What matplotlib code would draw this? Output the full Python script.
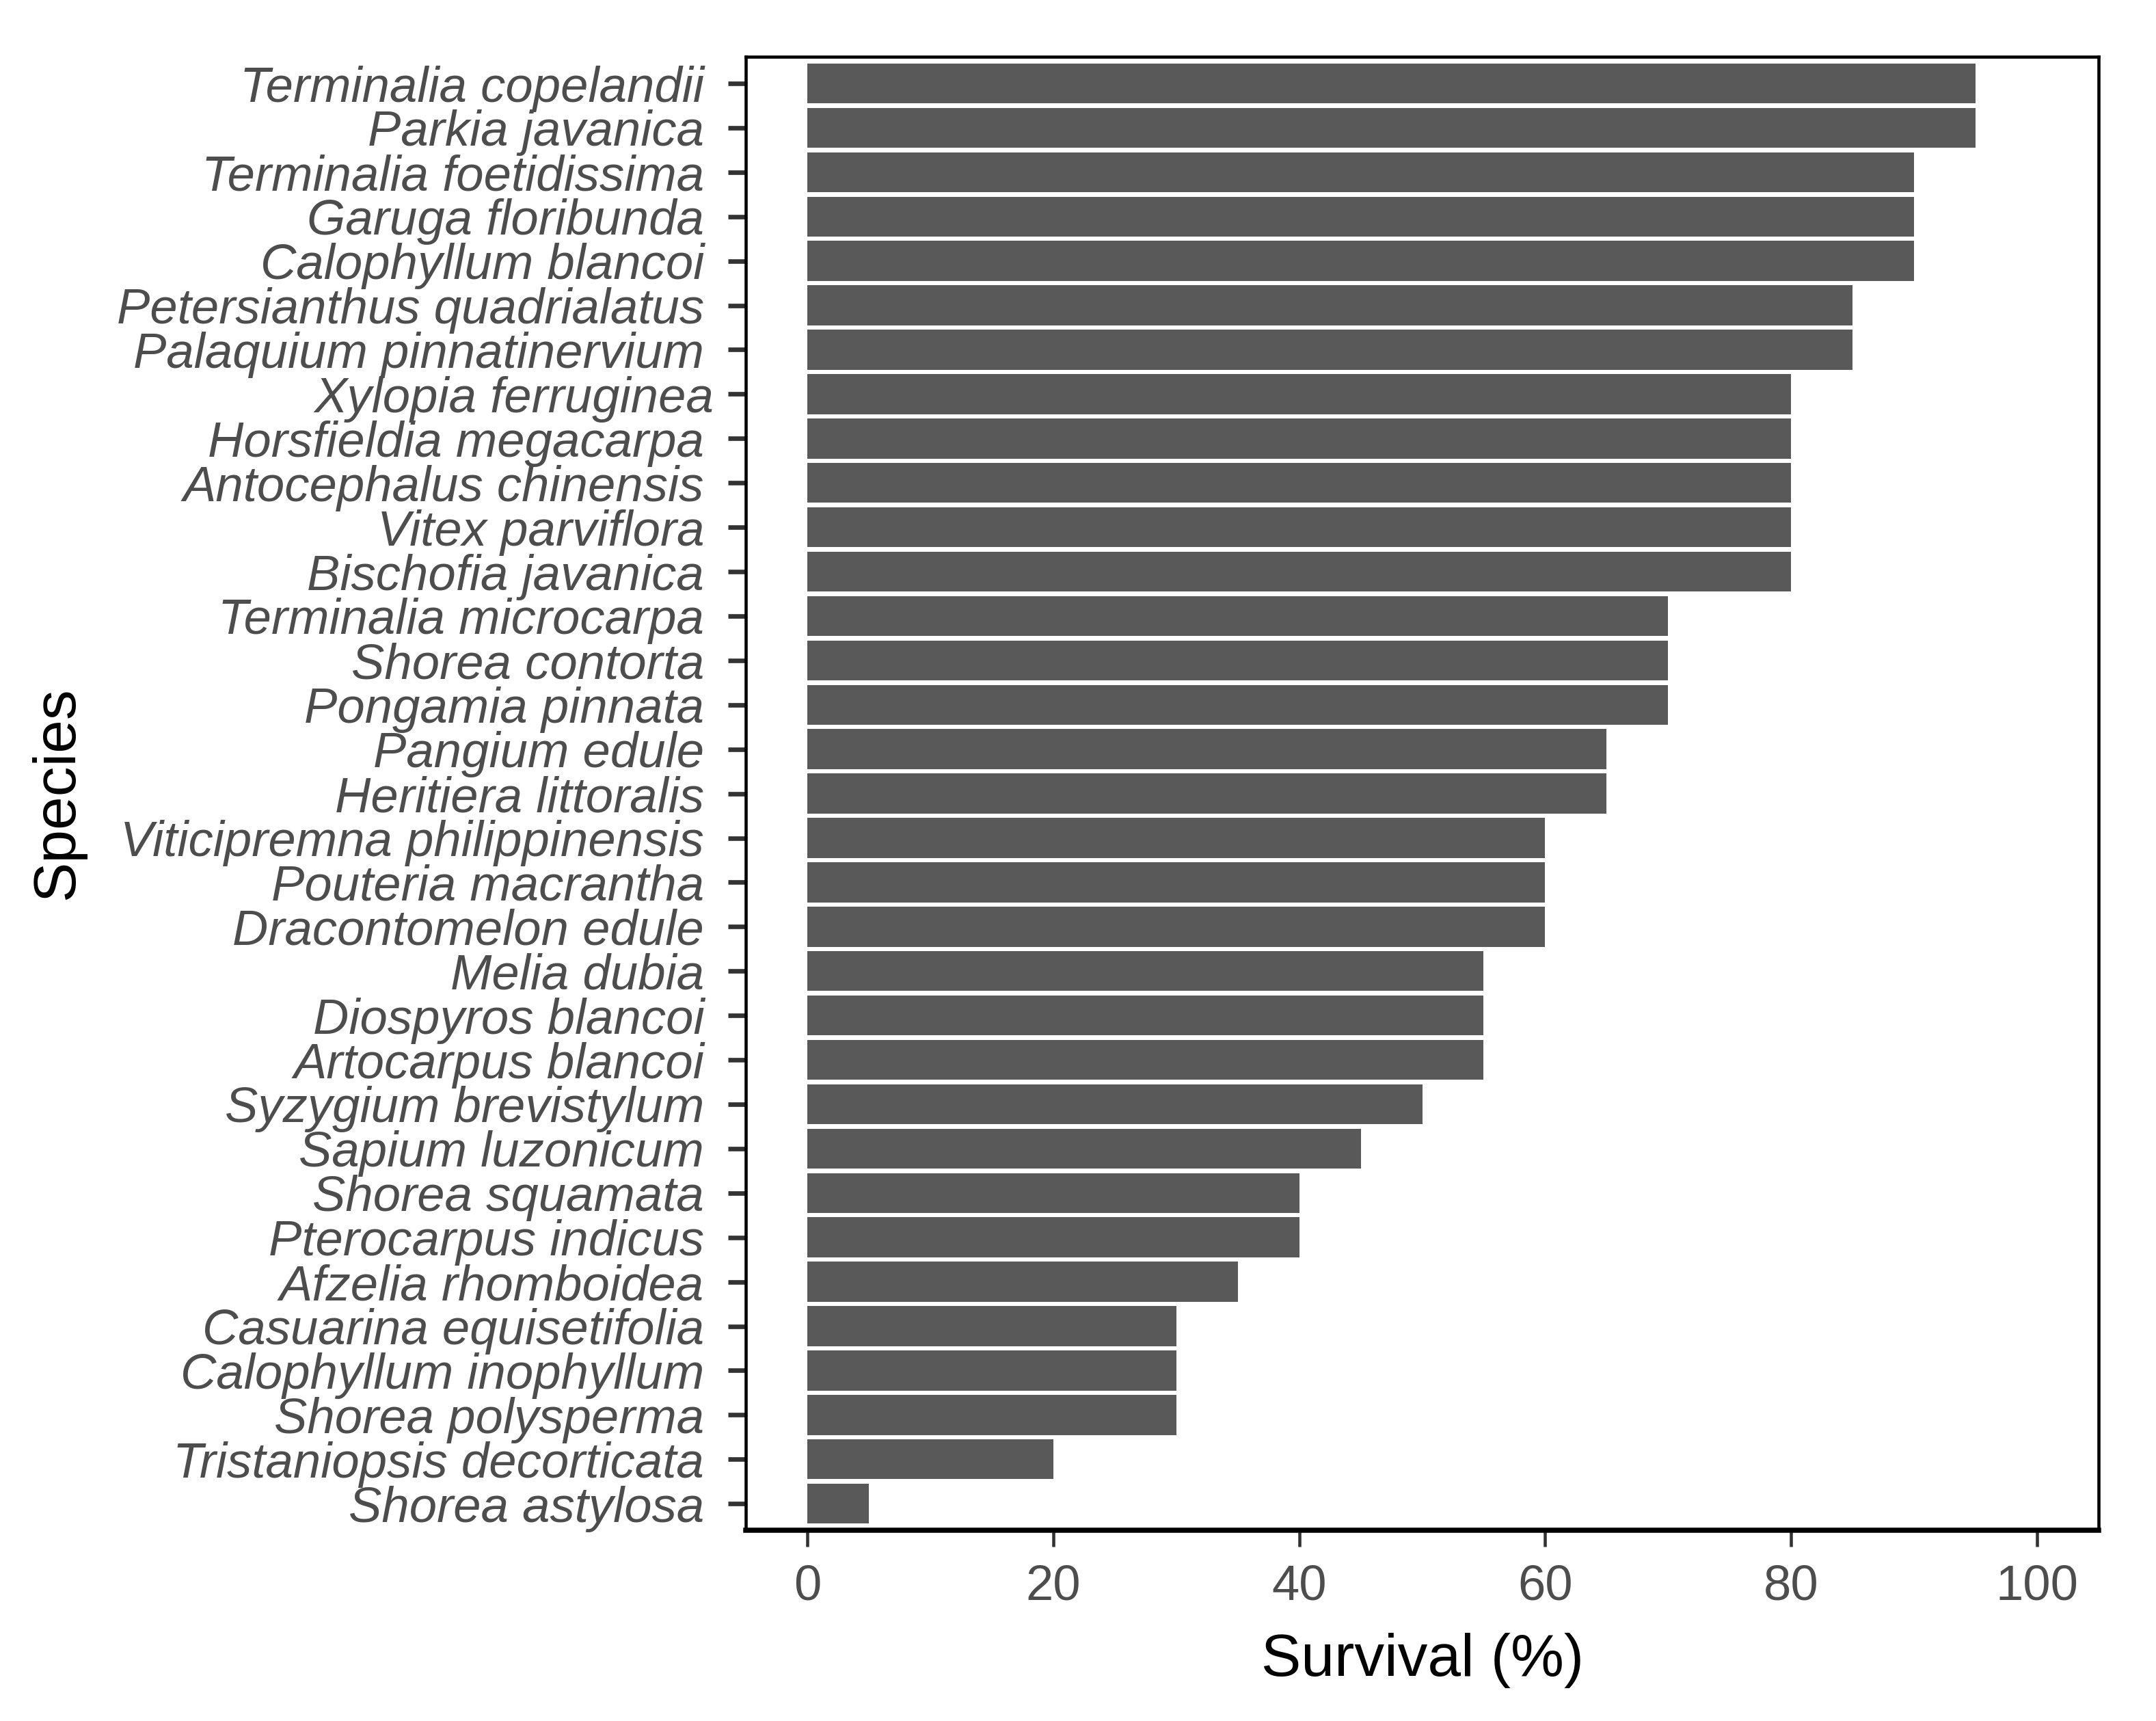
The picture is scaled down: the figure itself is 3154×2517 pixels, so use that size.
import matplotlib
matplotlib.use("Agg")
import matplotlib.pyplot as plt
from matplotlib.transforms import ScaledTranslation

# Species ordered from top of the chart to the bottom
species = [
    "Terminalia copelandii", "Parkia javanica", "Terminalia foetidissima",
    "Garuga floribunda", "Calophyllum blancoi", "Petersianthus quadrialatus",
    "Palaquium pinnatinervium", "Xylopia ferruginea", "Horsfieldia megacarpa",
    "Antocephalus chinensis", "Vitex parviflora", "Bischofia javanica",
    "Terminalia microcarpa", "Shorea contorta", "Pongamia pinnata",
    "Pangium edule", "Heritiera littoralis", "Viticipremna philippinensis",
    "Pouteria macrantha", "Dracontomelon edule", "Melia dubia",
    "Diospyros blancoi", "Artocarpus blancoi", "Syzygium brevistylum",
    "Sapium luzonicum", "Shorea squamata", "Pterocarpus indicus",
    "Afzelia rhomboidea", "Casuarina equisetifolia", "Calophyllum inophyllum",
    "Shorea polysperma", "Tristaniopsis decorticata", "Shorea astylosa",
]
survival = [
    95, 95, 90, 90, 90, 85, 85, 80, 80, 80, 80, 80, 70, 70, 70, 65, 65,
    60, 60, 60, 55, 55, 55, 50, 45, 40, 40, 35, 30, 30, 30, 20, 5,
]
x_ticks = [0, 20, 40, 60, 80, 100]

plt.rcParams["font.family"] = ["Liberation Sans", "DejaVu Sans"]

fig = plt.figure(figsize=(3154 / 300, 2517 / 300), dpi=300)
ax = fig.add_axes([0.3459, 0.1108, 0.9734 - 0.3459, 0.967 - 0.1108])

n = len(species)
ypos = [n - i for i in range(n)]
ax.barh(ypos, survival, height=0.9, color="#595959", edgecolor="none")

ax.set_xlim(-5, 105)
ax.set_ylim(0.4, n + 0.6)
ax.set_xticks(x_ticks)
ax.set_yticks(ypos)
ax.set_yticklabels(species, fontstyle="italic")

ax.tick_params(axis="both", direction="out", colors="#333333",
               labelcolor="#4D4D4D", labelsize=17.4)
ax.tick_params(axis="y", length=6.2, width=1.6, pad=8.4)
ax.tick_params(axis="x", length=5.8, width=1.1, pad=6)

for side in ["top", "right", "left"]:
    ax.spines[side].set_linewidth(1.1)
    ax.spines[side].set_color("black")
ax.spines["bottom"].set_linewidth(1.8)
ax.spines["bottom"].set_color("black")

ax.set_xlabel("Survival (%)", fontsize=21, color="black", labelpad=8)
ax.set_ylabel("Species", fontsize=21, color="black", labelpad=11)

# one label in the original sits a little further right than the others
for lab in ax.get_yticklabels():
    if lab.get_text() == "Xylopia ferruginea":
        lab.set_transform(lab.get_transform() +
                          ScaledTranslation(14 / 300, 0, fig.dpi_scale_trans))

fig.savefig("out.png", dpi=300, facecolor="white")
